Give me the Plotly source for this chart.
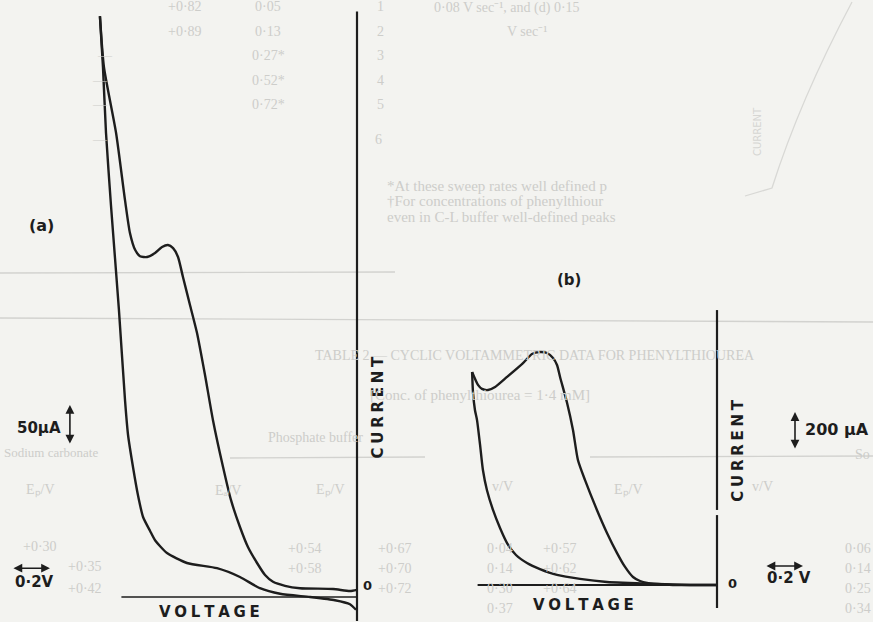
import plotly.graph_objects as go

W, H = 873, 622

# ---------------- data (voltage in V, current in microamps) ----------------
# Panel (a): forward (anodic) sweep, from 0 V up to the switching potential
a_fwd_V = [0.00, 0.037, 0.126, 0.300, 0.379, 0.442, 0.484, 0.526, 0.574, 0.616, 0.663, 0.705,
           0.758, 0.800, 0.842, 0.879, 0.916, 0.942, 0.968, 0.995, 1.026, 1.063, 1.105, 1.142,
           1.168, 1.195, 1.221, 1.268, 1.332, 1.353]
a_fwd_I = [9, 7.5, 10, 11, 14, 19, 27.5, 42.5, 62.5, 87.5, 121, 162.5,
           221, 277.5, 330, 365, 400, 425, 436, 440, 437.5, 430, 425, 426,
           434, 455, 496, 580, 662.5, 726]
# Panel (a): reverse sweep
a_rev_V = [1.353, 1.337, 1.321, 1.295, 1.253, 1.221, 1.205, 1.179, 1.153, 1.126, 1.089, 1.063,
           1.000, 0.895, 0.737, 0.616, 0.511, 0.405, 0.247, 0.116, 0.037, 0.005]
a_rev_I = [726, 662.5, 580, 490, 359, 246, 202.5, 162.5, 127.5, 100, 82.5, 71,
           55, 42.5, 36, 25, 11, 4, 0, -4, -9, -16]

# Panel (b): forward sweep
b_fwd_V = [0.000, 0.142, 0.232, 0.316, 0.368, 0.405, 0.442, 0.484, 0.526, 0.579, 0.632, 0.695,
           0.732, 0.758, 0.789, 0.826, 0.842, 0.863, 0.895, 0.932, 0.974, 1.021, 1.105, 1.168,
           1.205, 1.237, 1.258, 1.289]
b_fwd_I = [0, 0, 0, 5, 10.5, 21, 42, 95, 168, 274, 395, 553,
           658, 816, 958, 1095, 1158, 1195, 1221, 1226, 1216, 1168, 1095, 1042,
           1026, 1032, 1053, 1121]
# Panel (b): reverse sweep
b_rev_V = [1.289, 1.284, 1.274, 1.263, 1.247, 1.232, 1.211, 1.179, 1.142, 1.105, 1.058, 1.000,
           0.932, 0.842, 0.721, 0.579, 0.316, 0.142, 0.000]
b_rev_I = [1121, 1011, 921, 868, 737, 605, 500, 395, 300, 221, 158, 116,
           84, 53, 32, 16, 5, 0, 0]

# axes drawn as lines (current extent of the vertical axis, voltage extent of baseline)
a_axis_I = [-30, 732]
a_base_V = [1.24, 0.0]
b_axis_I = [-121, 368, None, 395, 1447]
b_base_V = [1.26, 0.0]

# scale bars
a_scale_V = 0.2      # V
a_scale_I = 50       # microamps
b_scale_V = 0.2
b_scale_I = 200

# ---------------- layout geometry (pixel scale of each panel) ----------------
PXV = 190.0                 # px per volt (both panels)
A_PXI, B_PXI = 0.8, 0.19    # px per microamp
A_O = (357, 597)            # pixel position of origin (0 V, 0 uA)
B_O = (717, 585)

def xr(o):
    return [o[0] / PXV, (o[0] - W) / PXV]

def yr(o, s):
    return [(o[1] - H) / s, o[1] / s]

INK = "#1d1d1d"
FAINT = "#cdcdca"

fig = go.Figure()

def curve(x, y, xa, ya, w=2.4):
    fig.add_trace(go.Scatter(x=x, y=y, mode="lines", xaxis=xa, yaxis=ya,
                             line=dict(color=INK, width=w, shape="spline", smoothing=0.6),
                             hoverinfo="skip"))

def straight(x, y, xa, ya, w=2.0):
    fig.add_trace(go.Scatter(x=x, y=y, mode="lines", xaxis=xa, yaxis=ya,
                             line=dict(color=INK, width=w), hoverinfo="skip",
                             connectgaps=False))

# panel (a)
straight([0] * len(a_axis_I), a_axis_I, "x", "y", 2.2)
straight(a_base_V, [0, 0], "x", "y", 1.6)
curve(a_fwd_V, a_fwd_I, "x", "y")
curve(a_rev_V, a_rev_I, "x", "y")

# panel (b)
straight([0 if v is not None else None for v in b_axis_I], b_axis_I, "x2", "y2", 2.2)
straight(b_base_V, [0, 0], "x2", "y2", 1.8)
curve(b_fwd_V, b_fwd_I, "x2", "y2")
curve(b_rev_V, b_rev_I, "x2", "y2")

LBL = dict(family="DejaVu Sans", color=INK)

def sp(s):
    return "\u2005".join(s)

ann = []
def lab(text, x, y, xr_, yr_, size=14, angle=0, xanchor="center"):
    ann.append(dict(text="<b>%s</b>" % text, x=x, y=y, xref=xr_, yref=yr_, showarrow=False,
                    textangle=angle, xanchor=xanchor, yanchor="middle",
                    font=dict(LBL, size=size)))

def darrow(x0, y0, x1, y1, xr_, yr_):
    ann.append(dict(text="", x=x1, y=y1, ax=x0, ay=y0, xref=xr_, yref=yr_, axref=xr_, ayref=yr_,
                    showarrow=True, arrowhead=2, arrowside="end+start", arrowsize=1.1,
                    arrowwidth=1.6, arrowcolor=INK))

# panel (a) labels
lab(sp("CURRENT"), -0.11, 238, "x", "y", 15, -90)
lab(sp("VOLTAGE"), 0.774, -19, "x", "y", 15)
lab("0", -0.055, 15, "x", "y", 13)
lab("(a)", 1.663, 464, "x", "y", 16)
lab("50μA", 1.674, 211, "x", "y", 15)
darrow(1.511, 190, 1.511, 190 + a_scale_I, "x", "y")
lab("0·2V", 1.695, 19, "x", "y", 15)
darrow(1.816, 36, 1.816 - a_scale_V, 36, "x", "y")

# panel (b) labels
lab(sp("CURRENT"), -0.11, 711, "x2", "y2", 15, -90)
lab(sp("VOLTAGE"), 0.705, -105, "x2", "y2", 15)
lab("0", -0.079, 10, "x2", "y2", 13)
lab("(b)", 0.779, 1605, "x2", "y2", 15)
lab("200 μA", -0.455, 816, "x2", "y2", 16, xanchor="left")
darrow(-0.4105, 710, -0.4105, 710 + b_scale_I, "x2", "y2")
lab("0·2 V", -0.379, 37, "x2", "y2", 15)
darrow(-0.2526, 100, -0.2526 - b_scale_V, 100, "x2", "y2")

# faint show-through of the printed page (decoration)
bg_text = [
    ("+0·82", 185, 6, "center"), ("0·05", 268, 6, "center"), ("1", 380, 6, "center"),
    ("0·08 V sec⁻¹, and (d) 0·15", 432, 8, "left"),
    ("+0·89", 185, 31, "center"), ("0·13", 268, 31, "center"), ("2", 380, 31, "center"),
    ("V sec⁻¹", 505, 31, "left"),
    ("—", 105, 55, "center"), ("0·27*", 268, 55, "center"), ("3", 380, 55, "center"),
    ("—", 100, 80, "center"), ("0·52*", 268, 80, "center"), ("4", 380, 80, "center"),
    ("—", 100, 104, "center"), ("0·72*", 268, 104, "center"), ("5", 380, 104, "center"),
    ("—", 100, 139, "center"), ("6", 378, 139, "center"),
    ("*At these sweep rates well defined p", 385, 186, "left"),
    ("†For concentrations of phenylthiour", 385, 201, "left"),
    ("even in C-L buffer well-defined peaks", 385, 217, "left"),
    ("TABLE 2 — CYCLIC VOLTAMMETRIC DATA FOR PHENYLTHIOUREA", 535, 355, "center"),
    ("[Conc. of phenylthiourea = 1·4 mM]", 480, 395, "center"),
    ("Sodium carbonate", 2, 452, "left"), ("Phosphate buffer", 315, 437, "center"),
    ("So", 862, 454, "center"),
    ("Eₚ/V", 40, 490, "center"), ("Eₐ/V", 228, 490, "center"), ("Eₚ/V", 330, 490, "center"),
    ("v/V", 503, 487, "center"), ("Eₚ/V", 628, 490, "center"), ("v/V", 762, 487, "center"),
    ("+0·30", 40, 546, "center"), ("+0·35", 66, 566, "left"), ("+0·42", 66, 588, "left"),
    ("+0·54", 305, 548, "center"), ("+0·58", 305, 568, "center"),
    ("+0·67", 395, 548, "center"), ("+0·70", 395, 568, "center"), ("+0·72", 395, 588, "center"),
    ("0·04", 500, 548, "center"), ("0·14", 500, 568, "center"), ("0·30", 500, 588, "center"),
    ("0·37", 500, 608, "center"),
    ("+0·57", 560, 548, "center"), ("+0·62", 560, 568, "center"), ("+0·64", 560, 588, "center"),
    ("0·06", 858, 548, "center"), ("0·14", 858, 568, "center"), ("0·25", 858, 588, "center"),
    ("0·34", 858, 608, "center"),
]
for t, px, py, anc in bg_text:
    sz = 13 if t.startswith("Sodium") else (15 if len(t) > 30 and "TABLE" not in t else 14)
    ann.append(dict(text=t, x=px / W, y=1 - py / H, xref="paper", yref="paper", showarrow=False,
                    xanchor=anc, yanchor="middle",
                    font=dict(family="Liberation Serif", size=sz, color=FAINT)))
# faint rotated label of the figure printed on the other side
ann.append(dict(text="CURRENT", x=765 / W, y=1 - 105 / H, xref="paper", yref="paper",
                showarrow=False, textangle=-90, font=dict(family="DejaVu Sans", size=10, color="#d6d6d3")))

shapes = []
for (x0, y0, x1, y1) in [(0, 273, 395, 272), (0, 318, 873, 322), (230, 458, 425, 457), (590, 457, 873, 456)]:
    shapes.append(dict(type="line", xref="paper", yref="paper", x0=x0 / W, y0=1 - y0 / H,
                       x1=x1 / W, y1=1 - y1 / H, line=dict(color="#d2d2cf", width=1.3), layer="below"))
# faint show-through curve (top right)
shapes.append(dict(type="path", xref="paper", yref="paper", layer="below",
                   path="M %f %f Q %f %f %f %f L %f %f" % (852 / W, 1 - 2 / H, 800 / W, 1 - 100 / H,
                                                          772 / W, 1 - 188 / H, 745 / W, 1 - 196 / H),
                   line=dict(color="#d8d8d5", width=1.3)))

fig.update_layout(
    width=W, height=H, autosize=False,
    margin=dict(l=0, r=0, t=0, b=0),
    paper_bgcolor="#f3f3f0", plot_bgcolor="rgba(0,0,0,0)",
    showlegend=False,
    xaxis=dict(domain=[0, 1], range=xr(A_O), visible=False, fixedrange=True),
    yaxis=dict(domain=[0, 1], range=yr(A_O, A_PXI), visible=False, fixedrange=True),
    xaxis2=dict(overlaying="x", anchor="y2", range=xr(B_O), visible=False, fixedrange=True),
    yaxis2=dict(overlaying="y", anchor="x2", range=yr(B_O, B_PXI), visible=False, fixedrange=True),
    annotations=ann, shapes=shapes,
)

fig.write_html("out.html")
